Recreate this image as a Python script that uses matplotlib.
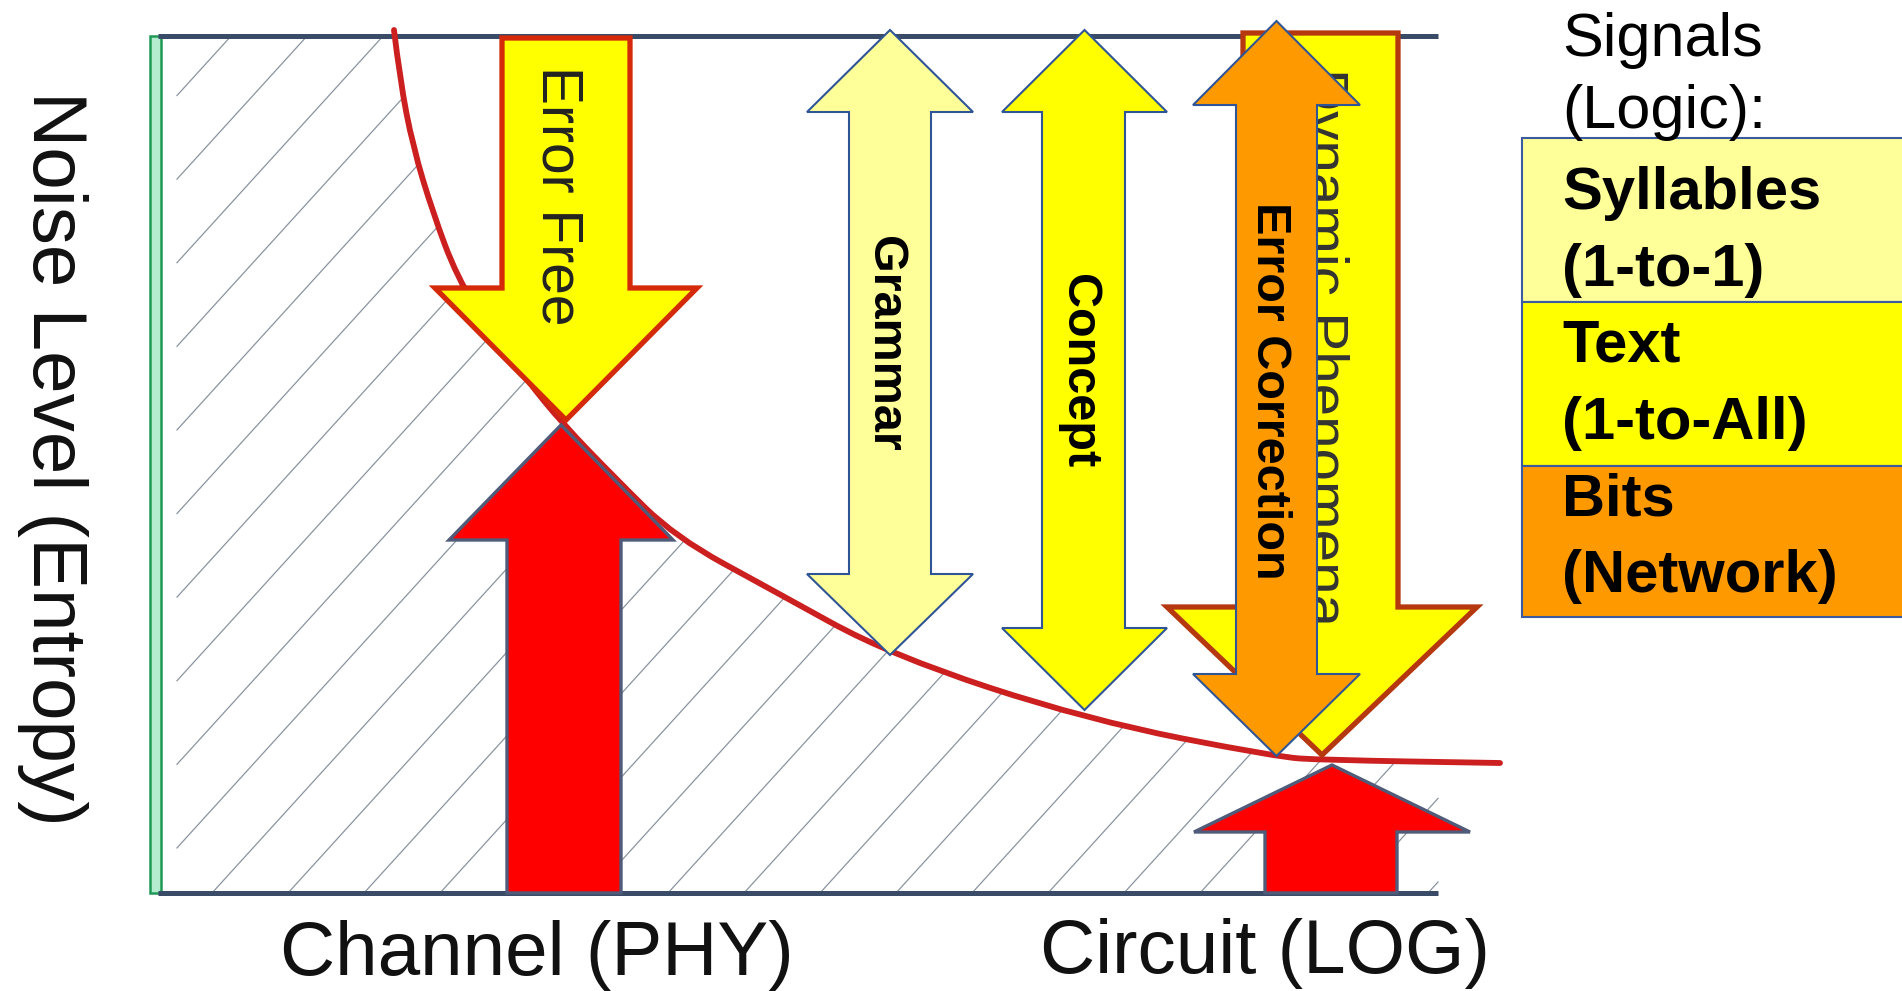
import matplotlib
matplotlib.use("Agg")
import matplotlib.pyplot as plt
from matplotlib.patches import Polygon, Rectangle, PathPatch
from matplotlib.path import Path
from matplotlib import font_manager
import numpy as np

# Everything is placed in the pixel frame of the 1902x991 picture (y grows downward)
W, H = 1902, 991

# noise curve
curve_x = [394, 400, 413, 433, 457, 490, 527, 562, 615, 675, 772, 890, 1088, 1277, 1323, 1500]
curve_y = [30, 80, 147, 213, 277, 330, 380, 423, 478, 537, 590, 655, 720, 757, 760, 763]

# frame of the diagram
box_left, box_right, box_top, box_bottom = 165, 1438, 36, 893

# single headed arrows: shaft (x0, x1), head (x0, x1), start y, head base y, tip y
error_free = [(502, 630), (435, 697), 38, 288, 420]
dynamic = [(1243, 1398), (1167, 1477), 33, 607, 755]
red_big = [(507, 621), (449, 673), 893, 540, 425]
red_small = [(1265, 1397), (1194, 1470), 893, 832, 765]

# double headed arrows: shaft, head, top tip, top base, bottom base, bottom tip
grammar = [(849, 931), (807, 973), 30, 112, 574, 655]
concept = [(1042, 1125), (1002, 1167), 30, 112, 628, 710]
err_corr = [(1236, 1317), (1193, 1360), 21, 105, 674, 756]

# legend boxes: top, bottom, colour, two text lines
legend_names = [("Syllables", "(1-to-1)"), ("Text", "(1-to-All)"), ("Bits", "(Network)")]
legend_tops = [138, 302, 466]
legend_bottoms = [302, 466, 617]
legend_colors = ["#ffff99", "#ffff00", "#ff9900"]
legend_baselines = [(209, 286), (362, 439), (515, 592)]

names = {f.name for f in font_manager.fontManager.ttflist}
narrow = "Liberation Sans Narrow" in names
bold_family = ["Liberation Sans Narrow", "Liberation Sans"] if narrow else ["Liberation Sans"]
bold_size = 42 if narrow else 35

plt.rcParams["font.family"] = ["Liberation Sans", "DejaVu Sans"]

fig = plt.figure(figsize=(W / 100, H / 100), dpi=100)
ax = fig.add_axes([0, 0, 1, 1])
ax.set_xlim(0, W)
ax.set_ylim(H, 0)
ax.axis("off")


def single_arrow(a):
    (x0, x1), (h0, h1), ys, yb, yt = a
    xc = (h0 + h1) / 2
    return [(x0, ys), (x1, ys), (x1, yb), (h1, yb), (xc, yt), (h0, yb), (x0, yb)]


def double_arrow(a):
    (x0, x1), (h0, h1), t0, b0, b1, t1 = a
    xc = (h0 + h1) / 2
    return [(xc, t0), (h1, b0), (x1, b0), (x1, b1), (h1, b1), (xc, t1),
            (h0, b1), (x0, b1), (x0, b0), (h0, b0)]


def smooth_path(px, py, extra=()):
    # quadratic pieces through the midpoints, the read points act as control points
    pts = list(zip(px, py))
    verts = [pts[0]]
    codes = [Path.MOVETO]
    for i in range(1, len(pts) - 1):
        mid = ((pts[i][0] + pts[i + 1][0]) / 2, (pts[i][1] + pts[i + 1][1]) / 2)
        verts += [pts[i], mid]
        codes += [Path.CURVE3, Path.CURVE3]
    verts.append(pts[-1])
    codes.append(Path.LINETO)
    for p in extra:
        verts.append(p)
        codes.append(Path.LINETO)
    if extra:
        verts.append(pts[0])
        codes.append(Path.CLOSEPOLY)
    return Path(verts, codes)


# hatched area under the curve
area = smooth_path(curve_x, curve_y, extra=[(curve_x[-1], box_bottom), (box_left, box_bottom), (box_left, box_top), (curve_x[0], box_top)])
clip = PathPatch(area, fc="none", ec="none")
ax.add_patch(clip)
slope = 1.1
spacing = 76
xs = np.array([box_left + 12, box_right])
for c in np.arange(box_left + 35 - 900, box_right + 10, spacing):
    ys = box_bottom - slope * (xs - c)
    ln, = ax.plot(xs, ys, color="#8a949e", lw=0.9, zorder=1)
    ln.set_clip_path(clip)

# frame lines
ax.add_patch(Rectangle((150, box_top), 11, box_bottom - box_top, fc="#b4ecd0", ec="#1f9a55", lw=1.8, zorder=2))
ax.plot([158, box_right], [box_top, box_top], color="#3a4b68", lw=3.6, solid_capstyle="butt", zorder=2)
ax.plot([158, box_right], [box_bottom, box_bottom], color="#3a4b68", lw=3.6, solid_capstyle="butt", zorder=2)

# noise curve
ax.add_patch(PathPatch(smooth_path(curve_x, curve_y), fc="none", ec="#cc1f1f", lw=4.2,
                       capstyle="round", joinstyle="round", zorder=3))

# arrows
ax.add_patch(Polygon(single_arrow(error_free), fc="#ffff00", ec="#d42a0a", lw=3.8, zorder=4))
ax.add_patch(Polygon(single_arrow(red_big), fc="#ff0000", ec="#4f5b78", lw=2.4, zorder=4))
ax.add_patch(Polygon(double_arrow(grammar), fc="#ffff99", ec="#2f5597", lw=1.5, zorder=5))
ax.add_patch(Polygon(double_arrow(concept), fc="#ffff00", ec="#2f5597", lw=1.5, zorder=5))
ax.add_patch(Polygon(single_arrow(dynamic), fc="#ffff00", ec="#b5380f", lw=3.8, zorder=6))
ax.add_patch(Polygon(double_arrow(err_corr), fc="#ff9900", ec="#2f5597", lw=1.5, zorder=8))
ax.add_patch(Polygon(single_arrow(red_small), fc="#ff0000", ec="#4f5b78", lw=2.4, zorder=9))

# arrow labels
ax.text(543, 196, "Error Free", rotation=-90, rotation_mode="anchor", ha="center", va="baseline",
        fontsize=41, color="#222222", zorder=4.5)
ax.text(1307, 347, "Dynamic Phenomena", rotation=-90, rotation_mode="anchor", ha="center", va="baseline",
        fontsize=42, color="#333333", zorder=6.5)
ax.text(872, 344, "Grammar", rotation=-90, rotation_mode="anchor", ha="center", va="baseline",
        fontsize=bold_size, family=bold_family, weight="bold", color="black", zorder=5.5)
ax.text(1066, 371, "Concept", rotation=-90, rotation_mode="anchor", ha="center", va="baseline",
        fontsize=bold_size, family=bold_family, weight="bold", color="black", zorder=5.5)
ax.text(1257, 391, "Error Correction", rotation=-90, rotation_mode="anchor", ha="center", va="baseline",
        fontsize=bold_size, family=bold_family, weight="bold", color="black", zorder=8.5)

# axis labels
ax.text(33, 458, "Noise Level (Entropy)", rotation=-90, rotation_mode="anchor", ha="center", va="baseline",
        fontsize=55, color="#111111")
ax.text(537, 975, "Channel (PHY)", ha="center", va="baseline", fontsize=55, color="#111111")
ax.text(1265, 973, "Circuit (LOG)", ha="center", va="baseline", fontsize=55, color="#111111")

# legend
ax.text(1562, 56, "Signals", ha="left", va="baseline", fontsize=44, color="black")
ax.text(1562, 128, "(Logic):", ha="left", va="baseline", fontsize=44, color="black")
for (l1, l2), top, bot, col, (b1, b2) in zip(legend_names, legend_tops, legend_bottoms, legend_colors, legend_baselines):
    ax.add_patch(Rectangle((1522, top), 400, bot - top, fc=col, ec="#3a5ba0", lw=1.5, zorder=2))
    ax.text(1562, b1, l1, ha="left", va="baseline", fontsize=43, weight="bold", color="black", zorder=3)
    ax.text(1562, b2, l2, ha="left", va="baseline", fontsize=43, weight="bold", color="black", zorder=3)

fig.savefig("out.png", dpi=100)
